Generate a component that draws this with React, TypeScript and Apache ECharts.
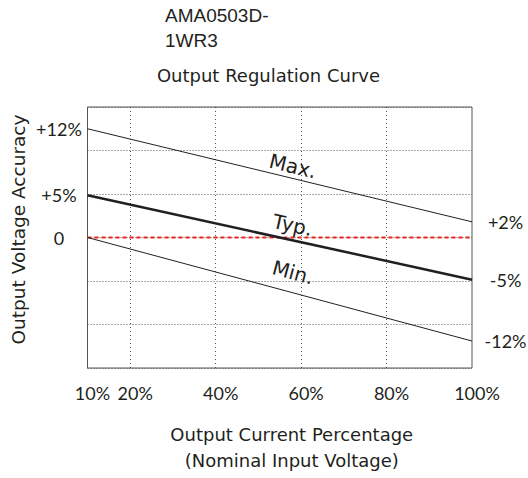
import React, { useEffect, useRef } from "react";
import * as echarts from "echarts";

const xValues = [10, 100];
const maxValues = [12.5, 1.8];
const typValues = [4.85, -4.85];
const minValues = [0, -11.9];
const zeroValues = [0, 0];
const leftTickLabels = ["+12%", "+5%", "0"];
const rightTickLabels = ["+2%", "-5%", "-12%"];
const xTickValues = [10, 20, 40, 60, 80, 100];
const xGridValues = [20, 40, 60, 80];
const curveNames = ["Max.", "Typ.", "Min."];
const modelName = "AMA0503D-\n1WR3";
const chartTitle = "Output Regulation Curve";
const xAxisName = "Output Current Percentage\n(Nominal Input Voltage)";
const yAxisName = "Output Voltage Accuracy";

const INK = "#231f20";
const GEO = "DejaVu Sans";

function makeSeries(
  name: string,
  values: number[],
  leftLabel: string,
  rightLabel: string,
  width: number,
  labelDistance: number
) {
  return {
    type: "line",
    name,
    symbol: "circle",
    symbolSize: 0.1,
    showSymbol: true,
    z: 5,
    lineStyle: { color: INK, width },
    itemStyle: { color: INK },
    data: values.map((v, i) => ({
      value: [xValues[i], v],
      label: {
        show: true,
        position: i === 0 ? "left" : "right",
        distance: i === 0 ? 28.5 : 33.5,
        align: "center",
        verticalAlign: "middle",
        formatter: i === 0 ? leftLabel : rightLabel,
        color: INK,
        fontFamily: "Lato",
        fontSize: 18,
      },
    })),
    markLine: {
      silent: true,
      symbol: ["none", "none"],
      lineStyle: { color: "rgba(0,0,0,0)", width: 1, type: "solid" },
      label: {
        show: true,
        position: "insideMiddleTop",
        formatter: name,
        distance: labelDistance,
        offset: [11, 0],
        color: INK,
        fontFamily: GEO,
        fontSize: 20,
      },
      data: [
        [
          { coord: [xValues[0], values[0]] },
          { coord: [xValues[1], values[1]] },
        ],
      ],
    },
  };
}

export default function App() {
  const ref = useRef<HTMLDivElement>(null);
  useEffect(() => {
    if (!ref.current) return;
    const chart = echarts.init(ref.current, undefined, { renderer: "svg" });
    chart.setOption({
      animation: false,
      backgroundColor: "#ffffff",
      grid: {
        left: 87.5,
        right: 56,
        top: 107,
        bottom: 108,
        show: true,
        borderColor: "#555555",
        borderWidth: 1,
        backgroundColor: "transparent",
      },
      graphic: [
        {
          type: "text",
          left: 165,
          top: 3,
          style: {
            text: modelName,
            fontFamily: "Liberation Sans",
            fontSize: 19,
            lineHeight: 25,
            fill: INK,
          },
        },
        {
          type: "text",
          x: 268.5,
          y: 66,
          style: {
            text: chartTitle,
            fontFamily: GEO,
            fontSize: 18,
            fill: INK,
            align: "center",
            verticalAlign: "top",
          },
        },
      ],
      xAxis: {
        type: "value",
        min: 10,
        max: 100,
        name: xAxisName,
        nameLocation: "middle",
        nameGap: 53,
        nameTextStyle: {
          fontFamily: GEO,
          fontSize: 18,
          lineHeight: 26,
          color: INK,
          padding: [0, 0, 0, 24],
        },
        axisLine: { show: false },
        axisTick: { show: false },
        splitLine: { show: false },
        axisLabel: {
          customValues: xTickValues,
          formatter: (v: number) => v + "%",
          margin: 16,
          fontFamily: "Lato",
          fontSize: 18,
          color: INK,
          padding: [0, 0, 0, 10],
        },
      },
      yAxis: {
        type: "value",
        min: -15,
        max: 15,
        interval: 5,
        name: yAxisName,
        nameLocation: "middle",
        nameGap: 60,
        nameTextStyle: {
          fontFamily: GEO,
          fontSize: 18.5,
          color: INK,
          padding: [0, 0, 0, 16],
        },
        axisLine: { show: false },
        axisTick: { show: false },
        axisLabel: { show: false },
        splitLine: {
          show: true,
          lineStyle: { color: "#555555", width: 1, type: [1, 2] },
        },
      },
      series: [
        {
          type: "line",
          name: "zero",
          symbol: "none",
          z: 4,
          lineStyle: { color: "#e8281e", width: 2, type: [4, 3] },
          data: zeroValues.map((v, i) => [xValues[i], v]),
          markLine: {
            silent: true,
            symbol: ["none", "none"],
            label: { show: false },
            lineStyle: { color: "#555555", width: 1, type: [1, 3] },
            data: xGridValues.map((x) => ({ xAxis: x })),
          },
        },
        makeSeries(curveNames[0], maxValues, leftTickLabels[0], rightTickLabels[0], 1, 2),
        makeSeries(curveNames[1], typValues, leftTickLabels[1], rightTickLabels[1], 2.5, 5),
        makeSeries(curveNames[2], minValues, leftTickLabels[2], rightTickLabels[2], 1, 10),
      ],
    });
    return () => chart.dispose();
  }, []);
  return (
    <div
      ref={ref}
      style={{ position: "absolute", left: 0, top: 0, width: 528, height: 478 }}
    />
  );
}
